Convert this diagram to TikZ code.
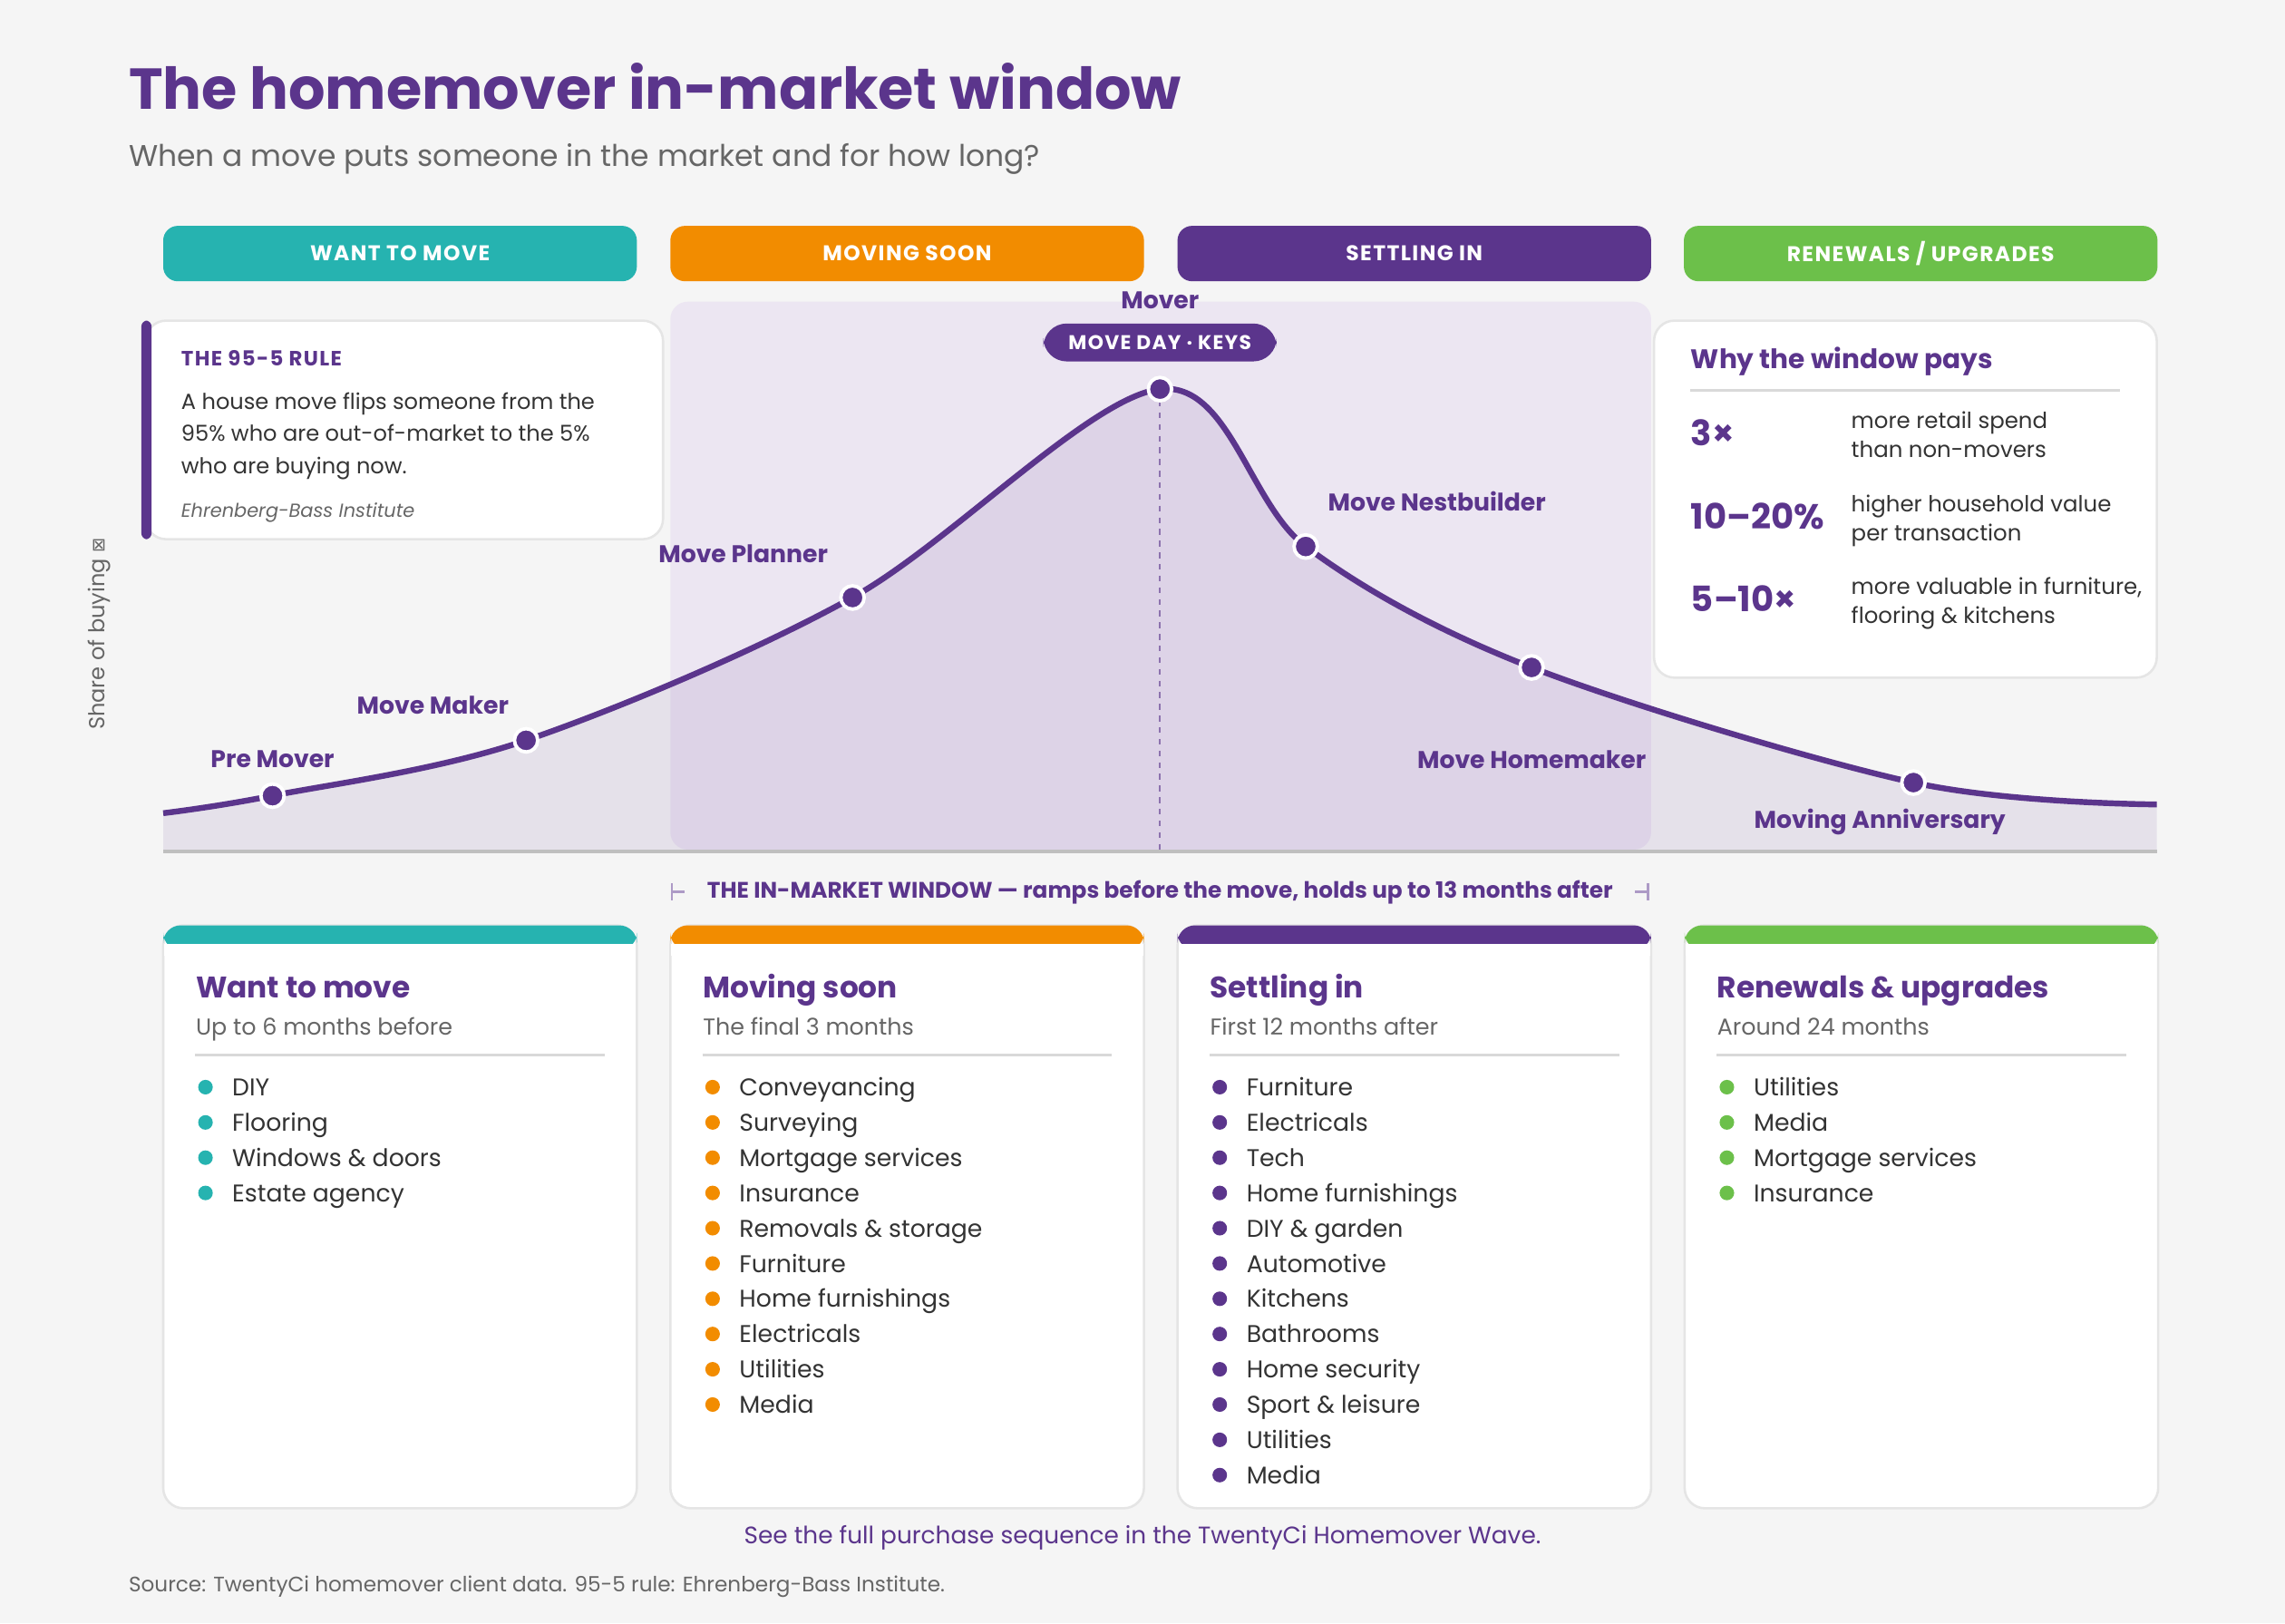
\documentclass[tikz,border=0pt]{standalone}
\usepackage{fontspec}
\setmainfont{Poppins}
\newfontfamily\spaced[LetterSpace=6]{Poppins}
\newfontfamily\symb{DejaVu Sans}
\usepackage{tikz}
\usetikzlibrary{positioning}
\definecolor{teal}{HTML}{26B3B0}
\definecolor{orng}{HTML}{F28C00}
\definecolor{purp}{HTML}{5B358C}
\definecolor{grn}{HTML}{6CC04A}
\definecolor{bg}{HTML}{F5F5F5}
\definecolor{txt}{HTML}{333333}
\definecolor{soft}{HTML}{ECE6F2}

\tikzset{
  band/.style={rounded corners=5pt, minimum width=162.5pt, minimum height=19pt, inner sep=0pt, text=white, font=\spaced\bfseries\fontsize{7.3}{8}\selectfont},
  card/.style={fill=white, draw=black!10, line width=0.8pt, rounded corners=7pt},
  stage/.style={text=purp, font=\bfseries\fontsize{8.3}{10}\selectfont},
  dot/.style={circle, fill=purp, draw=white, line width=1.2pt, minimum size=8pt, inner sep=0pt},
  txtline/.style={anchor=base west, inner sep=0pt},
  item/.style={anchor=base west, inner sep=0pt, text=txt, font=\fontsize{8.3}{10}\selectfont},
}

\begin{document}
\begin{tikzpicture}[x=0.5pt, y=-0.5pt]

\fill[bg] (0,0) rectangle (1568,1114);
\useasboundingbox (0,0) rectangle (1568,1114);

% title
\node[txtline, text=purp, font=\bfseries\fontsize{19.8}{24}\selectfont] (title) at (88,75) {The homemover in-market window};
\node[txtline, text=black!60, font=\fontsize{10.25}{12}\selectfont] (subtitle) at (88,114) {When a move puts someone in the market and for how long?};

% stage bands
\node[band, fill=teal] (b1) at (274.5,174) {WANT TO MOVE};
\node[band, fill=orng] (b2) at (622.5,174) {MOVING SOON};
\node[band, fill=purp] (b3) at (970.5,174) {SETTLING IN};
\node[band, fill=grn]  (b4) at (1318,174) {RENEWALS / UPGRADES};

% in-market window
\fill[soft, rounded corners=6pt] (460,207) rectangle (1133,583);

% curve points
\coordinate (start) at (112,558);
\coordinate (pre) at (187,546);
\coordinate (maker) at (361,508);
\coordinate (planner) at (585,410);
\coordinate (peak) at (796,267);
\coordinate (nest) at (896,375);
\coordinate (home) at (1051,458);
\coordinate (anniv) at (1313,537);
\coordinate (end) at (1480,552);

\fill[purp, fill opacity=0.1]
  plot[smooth, tension=0.55] coordinates {(start) (pre) (maker) (planner) (peak) (nest) (home) (anniv) (end)}
  -- (1480,584) -- (112,584) -- cycle;
\draw[black!25, line width=1.2pt] (112,584) -- (1480,584);
\draw[purp!70, line width=0.6pt, dash pattern=on 2pt off 2pt] (peak) -- (796,584);
\draw[purp, line width=2pt]
  plot[smooth, tension=0.55] coordinates {(start) (pre) (maker) (planner) (peak) (nest) (home) (anniv) (end)};

\foreach \p in {pre, maker, planner, peak, nest, home, anniv}
  \node[dot] at (\p) {};

\node[stage] at (796,206) {Mover};
\node[fill=purp, text=white, rounded corners=8pt, minimum width=80pt, minimum height=13pt, inner sep=0pt, font=\spaced\bfseries\fontsize{6.8}{8}\selectfont] (keys) at (796,235) {MOVE DAY · KEYS};
\node[stage] at (187,521) {Pre Mover};
\node[stage] at (297,484) {Move Maker};
\node[stage] at (510,380) {Move Planner};
\node[stage] at (986,344) {Move Nestbuilder};
\node[stage] at (1051,521) {Move Homemaker};
\node[stage] at (1290,564) {Moving Anniversary};

% y axis
\node[rotate=90, text=black!60, font=\fontsize{7.5}{9}\selectfont] (yaxis) at (68,435) {Share of buying {\symb\fontsize{6}{7}\selectfont ⊠}};

% 95-5 rule box
\draw[card] (100,220) rectangle (455,370);
\fill[purp, rounded corners=2pt] (97,220) rectangle (104,370);
\node[txtline, text=purp, font=\spaced\bfseries\fontsize{7.1}{9}\selectfont] at (124,251) {THE 95-5 RULE};
\node[txtline, text=txt, font=\fontsize{7.5}{10}\selectfont] at (124,281) {A house move flips someone from the};
\node[txtline, text=txt, font=\fontsize{7.5}{10}\selectfont] at (124,303) {95\% who are out-of-market to the 5\%};
\node[txtline, text=txt, font=\fontsize{7.5}{10}\selectfont] at (124,325) {who are buying now.};
\node[txtline, text=black!60, font=\itshape\fontsize{6.5}{8}\selectfont] at (124,355) {Ehrenberg-Bass Institute};

% why box
\draw[card] (1135,220) rectangle (1480,465);
\node[txtline, text=purp, font=\bfseries\fontsize{9.2}{11}\selectfont] at (1160,253) {Why the window pays};
\draw[black!15, line width=0.8pt] (1160,268) -- (1455,268);
\foreach \y/\big/\la/\lb in {297/3×/{more retail spend}/{than non-movers},
                              354/10–20\%/{higher household value}/{per transaction},
                              411/5–10×/{more valuable in furniture,}/{flooring \& kitchens}}{
  \node[anchor=west, inner sep=0pt, text=purp, font=\bfseries\fontsize{12}{14}\selectfont] at (1160,\y) {\big};
  \node[txtline, text=txt, font=\fontsize{7.6}{9}\selectfont] at (1270,\y-3) {\la};
  \node[txtline, text=txt, font=\fontsize{7.6}{9}\selectfont] at (1270,\y+17) {\lb};
}

% window caption
\node[text=purp, font=\bfseries\fontsize{7.7}{9}\selectfont] (window) at (796,612) {THE IN-MARKET WINDOW — ramps before the move, holds up to 13 months after};
\draw[purp!50, line width=0.8pt] (461,606) -- (461,618) (461,612) -- (470,612);
\draw[purp!50, line width=0.8pt] (1131,606) -- (1131,618) (1131,612) -- (1122,612);

% bottom cards
\foreach \x/\c/\head/\sub in {112/teal/Want to move/Up to 6 months before,
                               460/orng/Moving soon/The final 3 months,
                               808/purp/Settling in/First 12 months after,
                               1156/grn/Renewals \& upgrades/Around 24 months}{
  \draw[card] (\x,635) rectangle (\x+325,1035);
  \fill[\c, rounded corners=6pt] (\x,635) rectangle (\x+325,652);
  \fill[white] (\x+0.6,648) rectangle (\x+324.4,656);
  \node[txtline, text=purp, font=\bfseries\fontsize{10.2}{12}\selectfont] at (\x+22,685) {\head};
  \node[txtline, text=black!60, font=\fontsize{7.9}{10}\selectfont] at (\x+22,710) {\sub};
  \draw[black!15, line width=0.8pt] (\x+22,724) -- (\x+303,724);
}

\foreach \t [count=\i from 0] in {DIY, Flooring, Windows \& doors, Estate agency}{
  \fill[teal] (141,746+24.2*\i) circle (5);
  \node[item] at (159,752+24.2*\i) {\t};
}
\foreach \t [count=\i from 0] in {Conveyancing, Surveying, Mortgage services, Insurance, Removals \& storage, Furniture, Home furnishings, Electricals, Utilities, Media}{
  \fill[orng] (489,746+24.2*\i) circle (5);
  \node[item] at (507,752+24.2*\i) {\t};
}
\foreach \t [count=\i from 0] in {Furniture, Electricals, Tech, Home furnishings, DIY \& garden, Automotive, Kitchens, Bathrooms, Home security, Sport \& leisure, Utilities, Media}{
  \fill[purp] (837,746+24.2*\i) circle (5);
  \node[item] at (855,752+24.2*\i) {\t};
}
\foreach \t [count=\i from 0] in {Utilities, Media, Mortgage services, Insurance}{
  \fill[grn] (1185,746+24.2*\i) circle (5);
  \node[item] at (1203,752+24.2*\i) {\t};
}

% footer
\node[text=purp, font=\fontsize{8.2}{10}\selectfont] (link) at (784,1055) {See the full purchase sequence in the TwentyCi Homemover Wave.};
\node[txtline, text=black!60, font=\fontsize{7.2}{9}\selectfont] (source) at (88,1092) {Source: TwentyCi homemover client data. 95-5 rule: Ehrenberg-Bass Institute.};

\end{tikzpicture}
\end{document}
